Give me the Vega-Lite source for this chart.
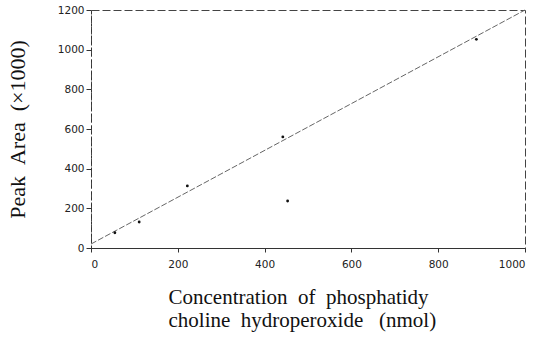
{
  "$schema": "https://vega.github.io/schema/vega-lite/v6.json",
  "width": 434,
  "height": 238,
  "autosize": "none",
  "padding": {"left": 91, "top": 10, "right": 25, "bottom": 98},
  "background": "white",
  "config": {
    "view": {"stroke": "#444", "strokeWidth": 1, "strokeDash": [8, 3]},
    "axis": {"grid": false, "domainColor": "#333", "tickColor": "#333", "labelColor": "#222", "labelFont": "DejaVu Sans", "labelFontSize": 10.5, "labelOverlap": false, "format": "d", "titleFont": "Liberation Serif", "titleFontSize": 21, "titleFontWeight": "normal", "titleColor": "#111"}
  },
  "encoding": {
    "x": {"field": "conc", "type": "quantitative", "scale": {"domain": [0, 1000], "nice": false},
      "axis": {"values": [0, 200, 400, 600, 800, 1000], "labelOverlap": false, "tickSize": 4, "labelPadding": 7, "title": ["Concentration\u00a0\u00a0of\u00a0\u00a0phosphatidy", "choline\u00a0\u00a0hydroperoxide\u00a0\u00a0\u00a0(nmol)"], "titlePadding": 17, "titleLineHeight": 23, "titleAlign": "left", "titleX": 77}},
    "y": {"field": "area", "type": "quantitative", "scale": {"domain": [0, 1200], "nice": false},
      "axis": {"values": [0, 200, 400, 600, 800, 1000, 1200], "labelOverlap": false, "tickSize": 5, "labelPadding": 2, "title": "Peak\u00a0\u00a0Area\u00a0\u00a0(×1000)", "titleFontSize": 22, "titlePadding": 28, "domainDash": [3, 3]}}
  },
  "layer": [
    {
      "data": {"values": [{"conc": 0, "area": 20, "conc_end": 1000, "area_end": 1200}]},
      "mark": {"type": "rule", "color": "#666", "strokeWidth": 1, "strokeDash": [6, 2]},
      "encoding": {
        "x2": {"field": "conc_end"},
        "y2": {"field": "area_end"}
      }
    },
    {
      "data": {"values": [
        {"conc": 55, "area": 77},
        {"conc": 111, "area": 131},
        {"conc": 222, "area": 313},
        {"conc": 442, "area": 560},
        {"conc": 453, "area": 237},
        {"conc": 888, "area": 1052}
      ]},
      "mark": {"type": "point", "filled": true, "color": "#111", "size": 8, "opacity": 1}
    }
  ]
}
